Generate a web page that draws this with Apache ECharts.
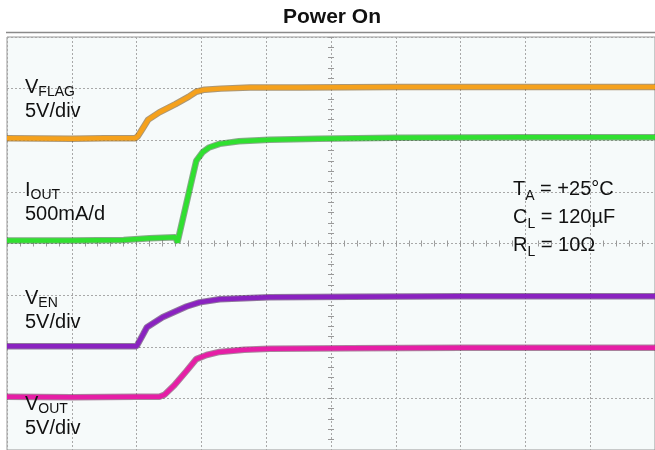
<!DOCTYPE html>
<html><head><meta charset="utf-8">
<script src="https://cdn.jsdelivr.net/npm/echarts@6/dist/echarts.min.js"></script>
<style>html,body{margin:0;padding:0;background:#fff}#c{width:655px;height:450px}</style>
</head><body><div id="c"></div>
<script>
const titleText = 'Power On';
// time in divisions from screen centre (-5..5), level in divisions from centre (-4..4)
const vflag = [[-5,2.04],[-4,2.03],[-3.5,2.04],[-3.02,2.04],[-2.98,2.08],[-2.93,2.18],[-2.87,2.3],[-2.82,2.4],[-2.65,2.54],[-2.4,2.7],[-2.2,2.84],[-2.08,2.94],[-1.95,2.98],[-1.7,3.0],[-1.25,3.02],[-0.5,3.02],[1,3.03],[2.5,3.03],[4,3.03],[5,3.03]];
const iout = [[-5,0.06],[-4,0.06],[-3.2,0.07],[-2.8,0.1],[-2.4,0.12],[-2.37,0.02],[-2.15,1.22],[-2.08,1.6],[-1.98,1.77],[-1.88,1.86],[-1.72,1.93],[-1.42,1.98],[-0.95,2.01],[-0.2,2.03],[1,2.05],[3,2.06],[5,2.06]];
const ven = [[-5,-1.99],[-4,-1.99],[-3.0,-1.99],[-2.98,-1.97],[-2.9,-1.76],[-2.84,-1.62],[-2.6,-1.43],[-2.23,-1.22],[-2.03,-1.14],[-1.72,-1.08],[-0.95,-1.04],[0.3,-1.03],[2,-1.02],[5,-1.02]];
const vout = [[-5,-2.97],[-4,-2.98],[-3,-2.97],[-2.65,-2.97],[-2.57,-2.93],[-2.42,-2.75],[-2.23,-2.47],[-2.08,-2.24],[-1.92,-2.16],[-1.72,-2.1],[-1.34,-2.06],[-0.95,-2.04],[0.3,-2.03],[2,-2.02],[5,-2.02]];
const channelLabels = [['V','FLAG','5V/div'],['I','OUT','500mA/d'],['V','EN','5V/div'],['V','OUT','5V/div']];
const conditionLabels = [['T','A',' = +25°C'],['C','L',' = 120µF'],['R','L',' = 10Ω']];

const FONT = 'Liberation Sans, Arial, sans-serif';
const traces = [
  {data: vflag, color: '#f5a11c', edge: 'rgba(110,70,10,0.55)'},
  {data: iout, color: '#30e030', edge: 'rgba(20,90,20,0.5)'},
  {data: ven, color: '#8a22c0', edge: 'rgba(60,10,80,0.55)'},
  {data: vout, color: '#e61ea6', edge: 'rgba(90,10,60,0.5)'}
];
const series = [];
traces.forEach(t => {
  series.push({type:'line', data:t.data, showSymbol:false, silent:true, z:2,
    lineStyle:{color:t.edge, width:6.5}});
  series.push({type:'line', data:t.data, showSymbol:false, silent:true, z:3,
    lineStyle:{color:t.color, width:4.5}});
});

const richLeft = {
  m:{fontSize:20, lineHeight:24, fontFamily:FONT, fill:'#111'},
  s:{fontSize:14, lineHeight:15, verticalAlign:'bottom', fontFamily:FONT, fill:'#111'}
};
const richRight = {
  m:{fontSize:20, lineHeight:28, fontFamily:FONT, fill:'#111'},
  s:{fontSize:14, lineHeight:19, verticalAlign:'bottom', fontFamily:FONT, fill:'#111'}
};
const leftTops = [75, 178, 286, 392];
const graphics = [
  {type:'line', shape:{x1:6,y1:32.5,x2:655,y2:32.5}, style:{stroke:'#8a8a8a', lineWidth:1.5}, z:10},
  {type:'text', x:332, y:17, z:10, style:{text:titleText, font:'bold 21px '+FONT, fill:'#111', textAlign:'center', textVerticalAlign:'middle'}}
];
channelLabels.forEach((c,i) => {
  graphics.push({type:'text', x:25, y:leftTops[i], z:10,
    style:{text:'{m|'+c[0]+'}{s|'+c[1]+'}\n{m|'+c[2]+'}', rich:richLeft, textVerticalAlign:'top', textAlign:'left'}});
});
graphics.push({type:'text', x:513, y:175, z:10,
  style:{text: conditionLabels.map(c => '{m|'+c[0]+'}{s|'+c[1]+'}{m|'+c[2]+'}').join('\n'), rich:richRight, textVerticalAlign:'top', textAlign:'left'}});

const dotted = {show:true, lineStyle:{color:'#a8a8a8', width:1, type:[2,2]}};
const tickAxis = (inside) => ({
  axisLine:{show:false, onZero:true, onZeroAxisIndex:0},
  axisTick:{show:true, inside:inside, length:3, lineStyle:{color:'#999'}},
  minorTick:{show:true, splitNumber:5, length:3, lineStyle:{color:'#999'}},
  axisLabel:{show:false}
});
const chart = echarts.init(document.getElementById('c'), null, {renderer:'canvas'});
chart.setOption({
  animation:false,
  backgroundColor:'#ffffff',
  grid:{left:7, top:37, width:650, height:413, show:true, backgroundColor:'#f6fafa', borderColor:'#999', borderWidth:1},
  xAxis:[
    Object.assign({type:'value', min:-5, max:5, interval:1, position:'bottom', splitLine:dotted}, tickAxis(false)),
    Object.assign({type:'value', min:-5, max:5, interval:1, position:'bottom', splitLine:{show:false}}, tickAxis(true))
  ],
  yAxis:[
    Object.assign({type:'value', min:-4, max:4, interval:1, position:'left', splitLine:dotted}, tickAxis(false)),
    Object.assign({type:'value', min:-4, max:4, interval:1, position:'left', splitLine:{show:false}}, tickAxis(true))
  ],
  series: series,
  graphic: graphics
});
</script></body></html>
